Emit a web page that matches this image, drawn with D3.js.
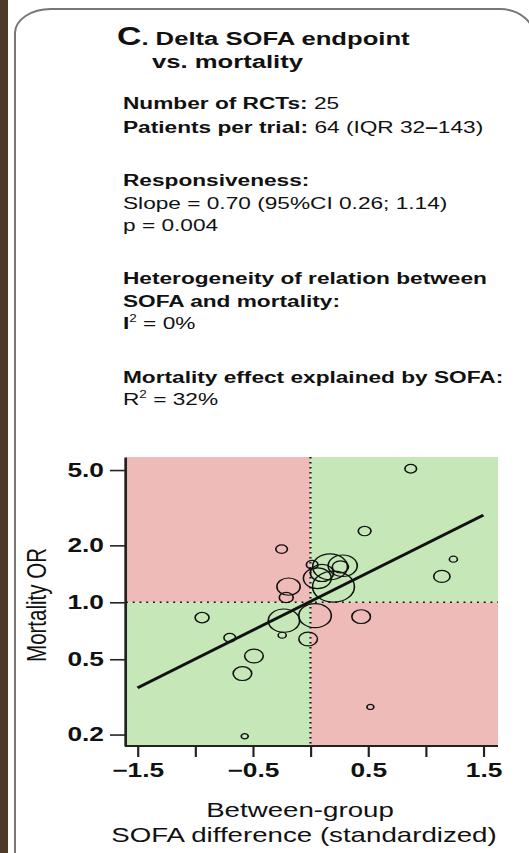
<!DOCTYPE html>
<html>
<head>
<meta charset="utf-8">
<script src="https://cdn.jsdelivr.net/npm/d3@7"></script>
<style>
  html, body { margin: 0; padding: 0; background: #fff; }
  svg { display: block; font-family: "Liberation Sans", Arial, Helvetica, sans-serif; }
</style>
</head>
<body>
<svg id="chart" width="529" height="853"></svg>
<script>
// Per-trial data: standardized between-group SOFA difference, mortality odds ratio, trial weight
const sofaDiff    = [0.87, 0.47, -0.25, 1.24, 1.14, -0.94, 0.44, -0.19, -0.21, 0.17, 0.28, 0.26, 0.06,
                     0.20, 0.015, 0.04, -0.23, -0.245, -0.02, -0.70, -0.49, -0.59, -0.57, 0.52, 0.10];
const mortalityOR = [5.08, 2.38, 1.91, 1.69, 1.37, 0.83, 0.84, 1.21, 1.06, 1.54, 1.56, 1.54, 1.34,
                     1.21, 1.58, 0.85, 0.80, 0.67, 0.64, 0.65, 0.52, 0.42, 0.196, 0.28, 1.43];
const trialWeight = [25, 30, 25, 12, 49, 36, 64, 100, 36, 225, 156, 49, 144,
                     324, 25, 196, 182, 12, 64, 25, 64, 64, 9, 9, 100];

// Meta-regression fit (log odds ratio vs standardized SOFA difference)
const fitSlope = 0.70;
const fitIntercept = 0.01;
const fitRange = [-1.5, 1.5];

// Axis ticks
const xTicks = [-1.5, -1, -0.5, 0, 0.5, 1, 1.5];
const xTickLabels = [-1.5, -0.5, 0.5, 1.5];
const yTicks = [0.2, 0.5, 1, 2, 5];
const xDomain = [-1.6, 1.627];
const yDomain = [0.174, 5.86];

// Summary text block
const infoLines = [
  { y: 109, parts: [["b", "Number of RCTs: "], ["r", "25"]] },
  { y: 133, parts: [["b", "Patients per trial: "], ["r", "64 (IQR 32"], ["b", "\u2013"], ["r", "143)"]] },
  { y: 186, parts: [["b", "Responsiveness:"]] },
  { y: 209, parts: [["r", "Slope = 0.70 (95%CI 0.26; 1.14)"]] },
  { y: 231, parts: [["r", "p = 0.004"]] },
  { y: 284, parts: [["b", "Heterogeneity of relation between"]] },
  { y: 307, parts: [["b", "SOFA and mortality:"]] },
  { y: 329, parts: [["b", "I"], ["sup", "2"], ["r", " = 0%"]] },
  { y: 383, parts: [["b", "Mortality effect explained by SOFA:"]] },
  { y: 405, parts: [["r", "R"], ["sup", "2"], ["r", " = 32%"]] }
];

const SX = 1.35;               // horizontal stretch of the whole panel
const X = px => px / SX;       // page x -> local x inside the stretched group
const ink = "#111";

const svg = d3.select("#chart");

// dark side strip and rounded panel frame
svg.append("rect").attr("x", 0).attr("y", 0).attr("width", 8).attr("height", 853).attr("fill", "#4e3a27");
svg.append("path")
  .attr("d", "M15,853 L15,33 A36,24 0 0 1 51,9 L500,9 A35,30 0 0 1 535,39 L535,853")
  .attr("fill", "none").attr("stroke", "#777").attr("stroke-width", 2);

const g = svg.append("g").attr("transform", `scale(${SX},1)`);

// title
const title = g.append("text").attr("x", X(117)).attr("y", 45)
  .attr("font-weight", "bold").attr("fill", ink);
title.append("tspan").attr("font-size", 25).text("C");
title.append("tspan").attr("font-size", 19).text(". Delta SOFA endpoint");
g.append("text").attr("x", X(152)).attr("y", 68).attr("font-weight", "bold")
  .attr("font-size", 19).attr("fill", ink).text("vs. mortality");

// summary lines
infoLines.forEach(line => {
  const t = g.append("text").attr("x", X(123)).attr("y", line.y)
    .attr("font-size", 16.8).attr("fill", ink);
  let raised = false;
  line.parts.forEach(([kind, str]) => {
    const s = t.append("tspan").text(str);
    if (kind === "b") s.attr("font-weight", "bold");
    if (kind === "sup") {
      s.attr("font-size", 10).attr("dy", -7);
      raised = true;
    } else if (raised) {
      s.attr("dy", 7);
      raised = false;
    }
  });
});

// plot box (page px)
const boxL = 126, boxR = 498, boxT = 457, boxB = 746;
const x = d3.scaleLinear().domain(xDomain).range([X(boxL), X(boxR)]);
const y = d3.scaleLog().domain(yDomain).range([boxB, boxT]);
const r = d3.scaleSqrt().domain([0, 324]).range([0, 15.5]);

// quadrant shading
const quads = [
  { x0: xDomain[0], x1: 0, y0: 1, y1: yDomain[1], fill: "#efbbb8" },
  { x0: 0, x1: xDomain[1], y0: 1, y1: yDomain[1], fill: "#c6e8b8" },
  { x0: xDomain[0], x1: 0, y0: yDomain[0], y1: 1, fill: "#c6e8b8" },
  { x0: 0, x1: xDomain[1], y0: yDomain[0], y1: 1, fill: "#efbbb8" }
];
g.selectAll("rect.quad").data(quads).join("rect").attr("class", "quad")
  .attr("x", d => x(d.x0)).attr("width", d => x(d.x1) - x(d.x0))
  .attr("y", d => y(d.y1)).attr("height", d => y(d.y0) - y(d.y1))
  .attr("fill", d => d.fill);

// reference lines at no SOFA difference and OR = 1
g.append("line").attr("x1", x(0)).attr("x2", x(0)).attr("y1", y(yDomain[1])).attr("y2", y(yDomain[0]))
  .attr("stroke", ink).attr("stroke-width", 1.6).attr("stroke-dasharray", "1.4,3.6");
g.append("line").attr("x1", x(xDomain[0])).attr("x2", x(xDomain[1])).attr("y1", y(1)).attr("y2", y(1))
  .attr("stroke", ink).attr("stroke-width", 1.6).attr("stroke-dasharray", "1.4,3.6");

// trials
const trials = sofaDiff.map((d, i) => ({ sx: d, or: mortalityOR[i], w: trialWeight[i] }));
g.selectAll("circle.trial").data(trials).join("circle").attr("class", "trial")
  .attr("cx", d => x(d.sx)).attr("cy", d => y(d.or)).attr("r", d => r(d.w))
  .attr("fill", "none").attr("stroke", ink).attr("stroke-width", 1.2);

// fitted line
const fitPts = fitRange.map(v => [v, Math.exp(fitIntercept + fitSlope * v)]);
g.append("path").datum(fitPts)
  .attr("d", d3.line().x(d => x(d[0])).y(d => y(d[1])))
  .attr("fill", "none").attr("stroke", ink).attr("stroke-width", 2.7);

// axes
const fmt = d3.format(".1f");
const yAxis = g.append("g").attr("transform", `translate(${X(125)},0)`)
  .call(d3.axisLeft(y).tickValues(yTicks).tickFormat(fmt).tickSize(15 / SX).tickSizeOuter(0).tickPadding(6 / SX));
const xAxis = g.append("g").attr("transform", `translate(0,${boxB})`)
  .call(d3.axisBottom(x).tickValues(xTicks)
    .tickFormat(d => xTickLabels.includes(d) ? fmt(d) : "")
    .tickSize(11).tickSizeOuter(0).tickPadding(6));
[yAxis, xAxis].forEach(a => {
  a.select(".domain").attr("stroke", "#222").attr("stroke-width", 2);
  a.selectAll(".tick line").attr("stroke", "#222").attr("stroke-width", 1.6);
  a.selectAll(".tick text").attr("fill", ink).attr("font-size", 19.5).attr("font-weight", "bold")
    .attr("font-family", "Liberation Sans, Arial, sans-serif");
});
xAxis.select(".domain").attr("d", `M${X(125)},0H${X(boxR)}`);

// axis titles
g.append("text").attr("transform", `translate(${X(46)},605) rotate(-90)`)
  .attr("text-anchor", "middle").attr("font-size", 20.5).attr("fill", ink).text("Mortality OR");
g.append("text").attr("x", X(300)).attr("y", 817).attr("text-anchor", "middle")
  .attr("font-size", 20.5).attr("fill", ink).text("Between-group");
g.append("text").attr("x", X(304)).attr("y", 842).attr("text-anchor", "middle")
  .attr("font-size", 20.5).attr("fill", ink).text("SOFA difference (standardized)");
</script>
</body>
</html>
